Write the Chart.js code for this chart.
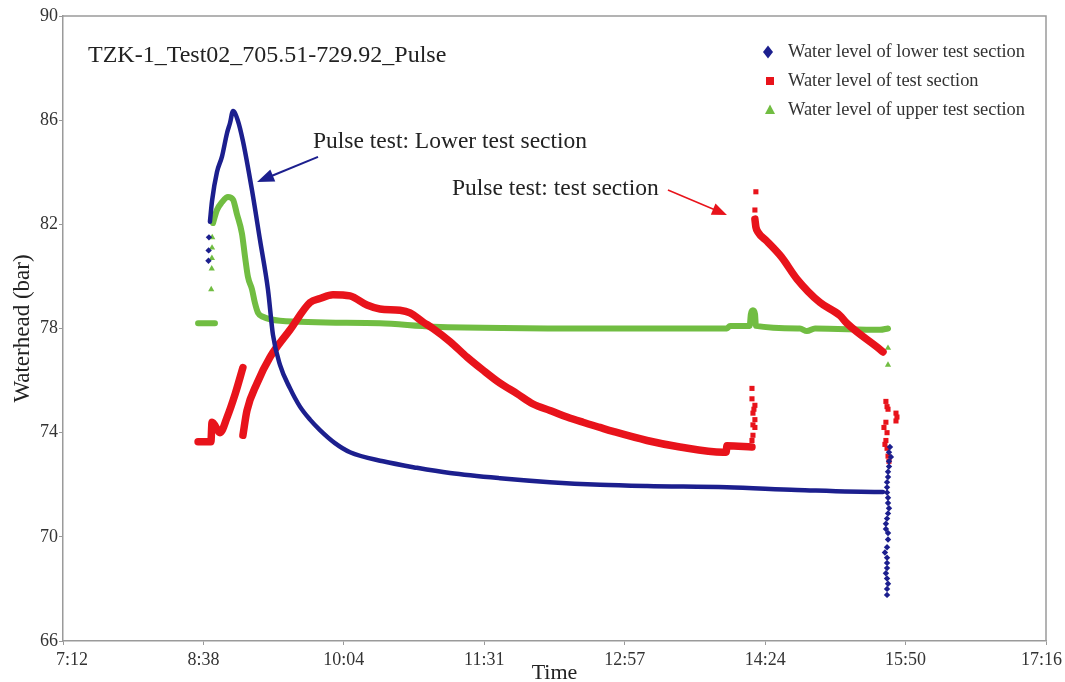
<!DOCTYPE html>
<html>
<head>
<meta charset="utf-8">
<script src="https://cdn.jsdelivr.net/npm/chart.js@4.4.1/dist/chart.umd.min.js"></script>
<style>
  html, body { margin: 0; padding: 0; background: #fff; }
  #wrap { width: 1065px; height: 682px; }
</style>
</head>
<body>
<div id="wrap"><canvas id="chart" width="1065" height="682"></canvas></div>
<script>
// x values are minutes after midnight, y values are water head in bar
const tickMinutes = [432, 518.4, 604.8, 691.2, 777.6, 864, 950.4, 1036.8];
const tickLabels = ['7:12', '8:38', '10:04', '11:31', '12:57', '14:24', '15:50', '17:16'];

// lower test section: continuous trace
const lowerTime = [522.4, 523.7, 526.7, 529.8, 532.9, 534.8, 536.6, 539.5, 542.7, 548.3, 553.2, 558.1, 561.2, 565.5,
  571.7, 577.8, 584.0, 590.1, 599.3, 608.6, 628.9, 649.8, 670.1, 700.9, 731.6, 762.4, 791.3, 840.5, 883.6, 934.6, 936.5];
const lowerLevel = [82.1, 82.9, 84.0, 84.6, 85.5, 85.9, 86.35, 86.0, 85.2, 83.3, 81.4, 79.5, 77.75, 76.6,
  75.7, 75.0, 74.5, 74.1, 73.6, 73.25, 72.9, 72.65, 72.45, 72.25, 72.1, 72.0, 71.95, 71.9, 71.8, 71.72, 71.72];
// lower test section: loose readings
const lowerDotTime = [521.5, 521.6, 521.8, 940.8, 940.2, 941.4, 940.2, 940.2, 939.6, 939.6, 939.0, 939.0, 939.0, 939.6, 939.6,
  940.2, 939.6, 939.0, 938.3, 938.3, 939.6, 939.6, 939.0, 937.7, 939.0, 939.0, 939.0, 939.0, 939.0, 939.0, 938.3, 939.6];
const lowerDotLevel = [80.6, 81.0, 81.5, 73.45, 73.25, 73.07, 72.9, 72.7, 72.5, 72.3, 72.1, 71.9, 71.7, 71.5, 71.3,
  71.1, 70.9, 70.7, 70.5, 70.3, 70.15, 69.9, 69.6, 69.4, 69.2, 69.0, 68.8, 68.4, 68.0, 67.77, 68.6, 68.2];

// test section (null = break in the trace)
const testTime = [515.1, 523.0, 523.7, 528.6, 533.0, 538.0, 542.7, null,
  542.7, 545.2, 551.4, 559.4, 571.7, 584.0, 590.1, 598.1, 608.6, 619.0, 627.0, 639.3, 645.5, 653.5, 659.6, 670.1,
  680.6, 690.4, 700.9, 711.3, 721.2, 731.6, 742.1, 751.9, 762.4, 770.4, 791.3, 811.6, 838.1, 840.0, 840.5, 855.9, null,
  857.7, 858.3, 859.6, 865.1, 874.0, 883.6, 897.7, 910.0, 914.3, 934.6, 936.5];
const testLevel = [73.65, 73.65, 74.4, 74.0, 74.6, 75.5, 76.5, null,
  73.9, 74.85, 75.9, 76.9, 77.95, 79.0, 79.15, 79.3, 79.25, 78.9, 78.75, 78.7, 78.6, 78.25, 78.0, 77.5,
  76.9, 76.4, 75.9, 75.5, 75.1, 74.85, 74.6, 74.4, 74.2, 74.05, 73.7, 73.45, 73.25, 73.25, 73.5, 73.45, null,
  82.2, 81.9, 81.7, 81.35, 80.75, 79.9, 79.0, 78.5, 78.2, 77.2, 77.1];
const testDotTime = [855.9, 855.9, 857.7, 857.1, 856.5, 857.7, 856.5, 857.7, 855.9, 856.5, 858.3, 857.7,
  938.3, 939.0, 939.6, 944.5, 945.1, 944.5, 937.1, 939.0, 938.3, 937.7, 939.0, 939.6, 940.2, 938.3];
const testDotLevel = [75.7, 75.3, 75.05, 74.9, 74.75, 74.5, 74.3, 74.2, 73.7, 73.9, 83.25, 82.55,
  75.2, 75.0, 74.9, 74.75, 74.6, 74.45, 74.2, 74.0, 73.7, 73.55, 73.4, 73.1, 72.9, 74.4];

// upper test section
const upperTime = [515.1, 525.5, null,
  524.3, 526.7, 529.8, 533.5, 536.6, 539.0, 542.1, 544.0, 545.8, 548.3, 550.1, 552.0, 555.0, 565.5, 627.0, 659.6,
  762.4, 840.5, 842.4, 854.5, 855.2, 856.5, 857.8, 858.3, 885.4, 889.7, 894.7, 934.6, 939.6];
const upperLevel = [78.2, 78.2, null,
  82.05, 82.55, 82.85, 83.05, 82.95, 82.4, 81.65, 80.75, 79.98, 79.5, 78.98, 78.6, 78.45, 78.3, 78.2, 78.07,
  78.0, 78.0, 78.1, 78.1, 78.55, 78.7, 78.55, 78.1, 78.0, 77.9, 78.0, 77.95, 78.0];
const upperDotTime = [523.2, 523.5, 523.6, 523.7, 523.8, 939.6, 939.6];
const upperDotLevel = [79.5, 80.3, 80.7, 81.1, 81.5, 77.25, 76.6];

const seriesNames = ['Water level of lower test section', 'Water level of test section', 'Water level of upper test section'];
const colors = ['#1c1f8e', '#e8131b', '#71bd42'];
const serif = "'Liberation Serif', 'Times New Roman', serif";

function toPoints(times, levels) {
  return times.map((t, i) => ({ x: t, y: levels[i] }));
}

function lineSet(times, levels, color, width, order) {
  return {
    data: toPoints(times, levels),
    showLine: true,
    borderColor: color,
    backgroundColor: color,
    borderWidth: width,
    borderJoinStyle: 'round',
    borderCapStyle: 'round',
    pointRadius: 0,
    cubicInterpolationMode: 'monotone',
    spanGaps: false,
    order
  };
}

function dotSet(times, levels, color, style, radius, order) {
  return {
    data: toPoints(times, levels),
    showLine: false,
    pointStyle: style,
    pointRadius: radius,
    pointBorderWidth: 0,
    pointBackgroundColor: color,
    pointBorderColor: color,
    order
  };
}

// notes placed in data units: [minutes, bar]
const titleAt = [447.4, 88.23];
const note1At = [585.8, 84.93];
const note2At = [671.3, 83.13];
const arrow1 = [[588.9, 84.59], [551.4, 83.63]];
const arrow2 = [[804.2, 83.32], [840.5, 82.36]];

function arrow(ctx, x0, y0, x1, y1, color, width, len, half) {
  const ang = Math.atan2(y1 - y0, x1 - x0);
  ctx.strokeStyle = color;
  ctx.fillStyle = color;
  ctx.lineWidth = width;
  ctx.beginPath();
  ctx.moveTo(x0, y0);
  ctx.lineTo(x1 - Math.cos(ang) * len * 0.8, y1 - Math.sin(ang) * len * 0.8);
  ctx.stroke();
  ctx.beginPath();
  ctx.moveTo(x1, y1);
  ctx.lineTo(x1 - Math.cos(ang) * len - Math.sin(ang) * half, y1 - Math.sin(ang) * len + Math.cos(ang) * half);
  ctx.lineTo(x1 - Math.cos(ang) * len + Math.sin(ang) * half, y1 - Math.sin(ang) * len - Math.cos(ang) * half);
  ctx.closePath();
  ctx.fill();
}

const decorations = {
  id: 'decorations',
  afterDraw(chart) {
    const { ctx, chartArea: a, scales: { x, y } } = chart;
    ctx.save();

    // top and right edge of the frame
    ctx.strokeStyle = '#9a9a9a';
    ctx.lineWidth = 1.5;
    ctx.beginPath();
    ctx.moveTo(a.left, a.top);
    ctx.lineTo(a.right, a.top);
    ctx.lineTo(a.right, a.bottom);
    ctx.stroke();

    // texts
    ctx.fillStyle = '#222';
    ctx.textBaseline = 'alphabetic';
    ctx.textAlign = 'left';
    ctx.font = '24px ' + serif;
    ctx.fillText('TZK-1_Test02_705.51-729.92_Pulse', x.getPixelForValue(titleAt[0]), y.getPixelForValue(titleAt[1]));
    ctx.font = '23.5px ' + serif;
    ctx.fillText('Pulse test: Lower test section', x.getPixelForValue(note1At[0]), y.getPixelForValue(note1At[1]));
    ctx.fillText('Pulse test: test section', x.getPixelForValue(note2At[0]), y.getPixelForValue(note2At[1]));

    arrow(ctx, x.getPixelForValue(arrow1[0][0]), y.getPixelForValue(arrow1[0][1]),
      x.getPixelForValue(arrow1[1][0]), y.getPixelForValue(arrow1[1][1]), colors[0], 2, 17, 6.5);
    arrow(ctx, x.getPixelForValue(arrow2[0][0]), y.getPixelForValue(arrow2[0][1]),
      x.getPixelForValue(arrow2[1][0]), y.getPixelForValue(arrow2[1][1]), colors[1], 1.5, 15, 6);

    // legend, top right inside the plot
    const mx = a.right - 278, tx = a.right - 258;
    const rows = [a.top + 36, a.top + 65, a.top + 94];
    ctx.font = '18.4px ' + serif;
    ctx.textBaseline = 'middle';
    rows.forEach((ry, i) => {
      ctx.fillStyle = colors[i];
      ctx.beginPath();
      if (i === 0) {
        ctx.moveTo(mx, ry - 6.5); ctx.lineTo(mx + 5, ry); ctx.lineTo(mx, ry + 6.5); ctx.lineTo(mx - 5, ry);
      } else if (i === 1) {
        ctx.rect(mx + 2 - 4, ry - 4, 8, 8);
      } else {
        ctx.moveTo(mx + 2, ry - 5.5); ctx.lineTo(mx + 7, ry + 4); ctx.lineTo(mx - 3, ry + 4);
      }
      ctx.closePath();
      ctx.fill();
      ctx.fillStyle = '#333';
      ctx.fillText(seriesNames[i], tx, ry);
    });
    ctx.restore();
  }
};

new Chart(document.getElementById('chart'), {
  type: 'scatter',
  data: {
    datasets: [
      lineSet(lowerTime, lowerLevel, colors[0], 4.5, 1),
      dotSet(lowerDotTime, lowerDotLevel, colors[0], 'rectRot', 3.2, 1),
      lineSet(testTime, testLevel, colors[1], 7.5, 2),
      dotSet(testDotTime, testDotLevel, colors[1], 'rect', 3.6, 2),
      lineSet(upperTime, upperLevel, colors[2], 6, 3),
      dotSet(upperDotTime, upperDotLevel, colors[2], 'triangle', 3.6, 3)
    ]
  },
  options: {
    responsive: false,
    animation: false,
    layout: { padding: { top: 16, right: 19, left: 0, bottom: 0 } },
    plugins: { legend: { display: false }, tooltip: { enabled: false } },
    scales: {
      x: {
        type: 'linear',
        min: 432,
        max: 1036.8,
        afterBuildTicks: s => { s.ticks = tickMinutes.map(v => ({ value: v })); },
        afterFit: s => { s.height = 41; s.paddingLeft = 0; s.paddingRight = 0; },
        grid: { drawOnChartArea: false, drawTicks: true, tickLength: 4, color: '#9a9a9a' },
        border: { color: '#9a9a9a', width: 1.5 },
        ticks: {
          // end labels nudged inwards with spaces so they stay on the canvas, as in the source figure
          callback: (v, i) => i === 0 ? '\u2002\u2002' + tickLabels[i]
            : i === tickLabels.length - 1 ? tickLabels[i] + '\u2002' : tickLabels[i],
          color: '#333',
          font: { family: serif, size: 18 },
          padding: 4,
          maxRotation: 0,
          autoSkip: false
        },
        title: { display: true, text: 'Time', color: '#222', font: { family: serif, size: 22, lineHeight: 0.8 }, padding: 0 }
      },
      y: {
        min: 66,
        max: 90,
        afterFit: s => { s.width = 63; },
        grid: { drawOnChartArea: false, drawTicks: true, tickLength: 4, color: '#9a9a9a' },
        border: { color: '#9a9a9a', width: 1.5 },
        ticks: { stepSize: 4, color: '#333', font: { family: serif, size: 18 }, padding: 1 },
        title: { display: true, text: 'Waterhead (bar)', color: '#222', font: { family: serif, size: 23, lineHeight: 1 }, padding: { top: 11, bottom: 0 } }
      }
    }
  },
  plugins: [decorations]
});
</script>
</body>
</html>
